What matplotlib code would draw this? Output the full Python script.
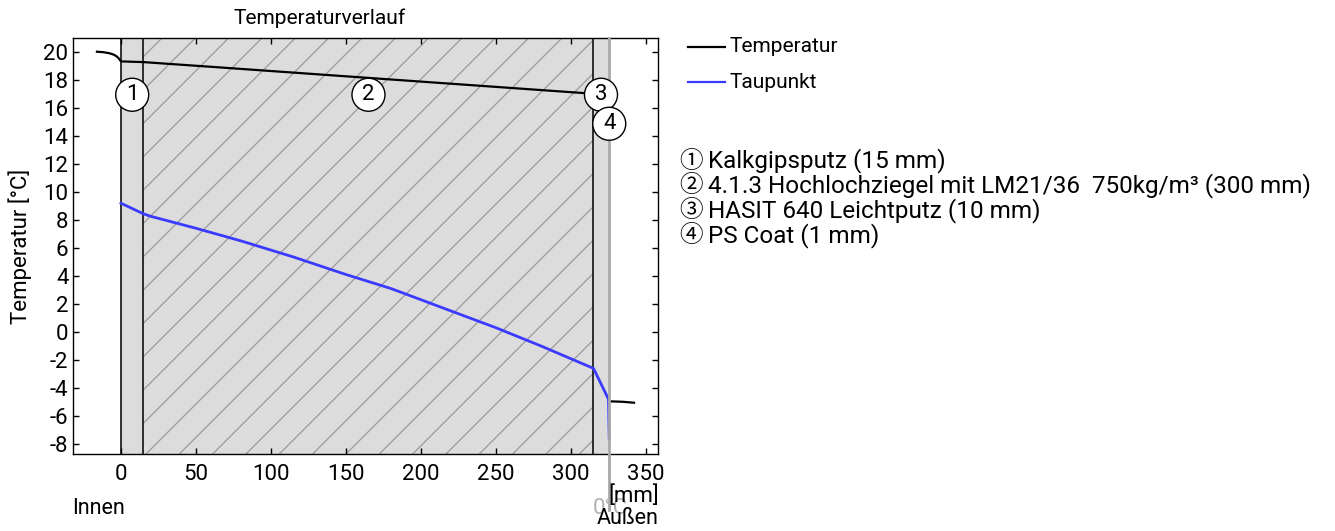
import matplotlib
matplotlib.use("Agg")
import matplotlib.pyplot as plt
from matplotlib.patches import Rectangle
from matplotlib.lines import Line2D

plt.rcParams['font.family'] = ['Roboto', 'DejaVu Sans']
plt.rcParams['font.size'] = 16
plt.rcParams['hatch.color'] = '#9a9a9a'
plt.rcParams['hatch.linewidth'] = 0.9

W, H = 1335, 531

# layers of the wall (mm)
layer_names = ['Kalkgipsputz (15 mm)',
               '4.1.3 Hochlochziegel mit LM21/36  750kg/m³ (300 mm)',
               'HASIT 640 Leichtputz (10 mm)',
               'PS Coat (1 mm)']
layer_bounds = [0, 15, 315, 325, 326]
layer_nums = ['1', '2', '3', '4']

# temperature (black) inside incl. surface transition, and outside
temp_in_x = [-16, -12, -8, -5, -3, -1.5, 0, 15, 66, 315, 325]
temp_in_y = [20.0, 19.97, 19.9, 19.8, 19.68, 19.53, 19.31, 19.26, 18.88, 17.0, 16.9]
temp_out_x = [325.5, 334, 342]
temp_out_y = [-4.95, -4.98, -5.05]

# dew point (blue)
dew_x = [0, 15, 20, 50, 80, 115, 150, 180, 215, 250, 280, 315, 325, 325.5]
dew_y = [9.19, 8.43, 8.25, 7.4, 6.5, 5.35, 4.1, 3.1, 1.7, 0.3, -1.0, -2.6, -4.8, -7.65]

xticks = [0, 50, 100, 150, 200, 250, 300, 350]
yticks = list(range(-8, 21, 2))


def px(x, y):
    return x / W, 1 - y / H


fig = plt.figure(figsize=(W / 100, H / 100), dpi=100)
ax = fig.add_axes([72.5 / W, 1 - 454 / H, (658 - 72.5) / W, (454 - 38) / H])
ax.set_xlim(-32.3, 358)
ax.set_ylim(-8.71, 20.98)

# layer fills
ax.add_patch(Rectangle((layer_bounds[0], -20), layer_bounds[1] - layer_bounds[0], 50,
                       facecolor='#dcdcdc', linewidth=0, zorder=0))
ax.add_patch(Rectangle((layer_bounds[1], -20), layer_bounds[2] - layer_bounds[1], 50,
                       facecolor='#dcdcdc', hatch='/', linewidth=0, zorder=0))
ax.add_patch(Rectangle((layer_bounds[2], -20), layer_bounds[3] - layer_bounds[2], 50,
                       facecolor='#dcdcdc', linewidth=0, zorder=0))
for b in layer_bounds[:3]:
    ax.axvline(b, color='#111111', lw=1.2, zorder=1)
# PS coat / 0°C marker line reaching below the axis
ax.plot([325.5, 325.5], [20.98, -12.7], color='#a8a8a8', lw=2, clip_on=False, zorder=3)

ax.plot(temp_in_x, temp_in_y, color='black', lw=1.6, zorder=2)
ax.plot(temp_out_x, temp_out_y, color='black', lw=1.6, zorder=2)
ax.plot(dew_x, dew_y, color='#3b3bff', lw=2, zorder=2)

# numbered circles
centers = [(layer_bounds[i] + layer_bounds[i + 1]) / 2 for i in range(4)]
circ_y = [16.93, 16.93, 16.93, 14.86]
for c, cy, n in zip(centers, circ_y, layer_nums):
    ax.text(c, cy, n, ha='center', va='center', fontsize=16, zorder=5,
            bbox=dict(boxstyle='circle,pad=0.27', fc='white', ec='black', lw=1))

ax.set_xticks(xticks)
ax.set_yticks(yticks)
ax.set_yticklabels([str(t) for t in yticks])
ax.tick_params(direction='in', length=4, width=1, top=True, right=True, labelsize=16)
ax.tick_params(axis='x', pad=7)
ax.tick_params(axis='y', pad=3)
for s in ax.spines.values():
    s.set_linewidth(1)

fig.text(*px(20, 246), 'Temperatur [°C]', rotation=90, ha='center', va='center', fontsize=16)
fig.text(*px(320, 18), 'Temperaturverlauf', ha='center', va='center', fontsize=15)
fig.text(*px(72, 508), 'Innen', ha='left', va='center', fontsize=15.5)
fig.text(*px(610, 508), '0°C', ha='center', va='center', fontsize=16, color='#b0b0b0')
fig.text(*px(659, 496), '[mm]', ha='right', va='center', fontsize=16)
fig.text(*px(659, 519), 'Außen', ha='right', va='center', fontsize=15.5)

# legend
for yy, col, lab in [(47, 'black', 'Temperatur'), (82, '#3b3bff', 'Taupunkt')]:
    fig.add_artist(Line2D([688 / W, 725 / W], [1 - yy / H] * 2, color=col, lw=1.6))
    fig.text(*px(729, yy), lab, ha='left', va='center', fontsize=15)

circ_chars = ['①', '②', '③', '④']
for i, (ch, name) in enumerate(zip(circ_chars, layer_names)):
    yy = 161 + 25 * i
    fig.text(*px(679, yy), ch, ha='left', va='center', fontsize=17,
             family=['Noto Sans CJK JP', 'DejaVu Sans'])
    fig.text(*px(708, yy), name, ha='left', va='center', fontsize=17.5)

fig.savefig('out.png', dpi=100)
